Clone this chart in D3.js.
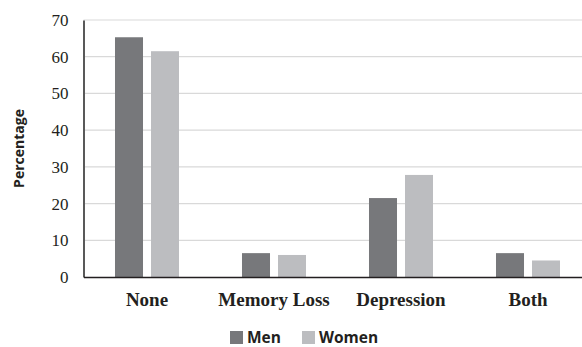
<!DOCTYPE html>
<html><head><meta charset="utf-8">
<script src="https://cdn.jsdelivr.net/npm/d3@7"></script>
<style>body{margin:0;background:#fff}
.serif{font-family:'Liberation Serif','Times New Roman','DejaVu Serif',serif}
.sans{font-family:'Open Sans','DejaVu Sans',sans-serif}
</style>
</head><body>
<svg id="c" width="582" height="347"></svg>
<script>
const categories = ["None", "Memory Loss", "Depression", "Both"];
const seriesNames = ["Men", "Women"];
const menValues = [65.3, 6.5, 21.5, 6.5];
const womenValues = [61.5, 6.0, 27.8, 4.5];
const yTicks = [0, 10, 20, 30, 40, 50, 60, 70];
const colors = ["#77787b", "#bcbdc0"];

(function () {
const svg = d3.select("#c");
const mLeft = 83.5, mRight = 591.5, mTop = 20, mBottom = 277;
const x = d3.scaleBand().domain(categories).range([mLeft, mRight]).paddingInner(0).paddingOuter(0);
const xs = d3.scaleBand().domain(seriesNames).range([0, x.bandwidth()]).paddingInner(0.222).paddingOuter(0.875);
const y = d3.scaleLinear().domain([0, 70]).range([mBottom, mTop]);

// gridlines
svg.append("g").selectAll("line").data(yTicks.filter(d => d > 0)).join("line")
  .attr("x1", mLeft).attr("x2", mRight).attr("y1", d => y(d)).attr("y2", d => y(d))
  .attr("stroke", "#d9d9d9").attr("stroke-width", 1.2);

// bars
const data = categories.map((c, i) => ({c, vals: [menValues[i], womenValues[i]]}));
const g = svg.append("g").selectAll("g").data(data).join("g")
  .attr("transform", d => `translate(${x(d.c)},0)`);
g.selectAll("rect").data(d => d.vals.map((v, j) => ({s: seriesNames[j], v, j}))).join("rect")
  .attr("x", d => xs(d.s)).attr("width", xs.bandwidth())
  .attr("y", d => y(d.v)).attr("height", d => mBottom - y(d.v))
  .attr("fill", d => colors[d.j]);

// y axis
const ya = svg.append("g").attr("transform", `translate(${mLeft},0)`)
  .call(d3.axisLeft(y).tickValues(yTicks).tickSize(0).tickPadding(15));
ya.attr("font-family", null);
ya.select(".domain").attr("stroke", "#595959").attr("stroke-width", 2);
ya.selectAll("text").attr("class", "serif").style("font-size", "17px").attr("fill", "#231f20");

// x axis
const xa = svg.append("g").attr("transform", `translate(0,${mBottom})`)
  .call(d3.axisBottom(x).tickSize(0).tickPadding(16));
xa.attr("font-family", null);
xa.select(".domain").attr("stroke", "#231f20").attr("stroke-width", 1.5);
xa.selectAll("text").attr("class", "serif").style("font-size", "19px").style("font-weight", "bold").attr("fill", "#231f20");

// y title
svg.append("text").attr("class", "sans").attr("transform", `translate(24,${(mTop + mBottom) / 2}) rotate(-90)`)
  .attr("text-anchor", "middle")
  .style("font-size", "14px").style("font-weight", "bold").attr("fill", "#231f20").text("Percentage");

// legend
const legX = [230, 302];
const lg = svg.append("g").selectAll("g").data(seriesNames).join("g")
  .attr("transform", (d, i) => `translate(${legX[i]},331)`);
lg.append("rect").attr("width", 13).attr("height", 13).attr("fill", (d, i) => colors[i]);
lg.append("text").attr("class", "sans").attr("x", 17).attr("y", 12)
  .style("font-size", "15.5px").style("font-weight", "bold").attr("fill", "#231f20").text(d => d);
})();
</script>
</body></html>
